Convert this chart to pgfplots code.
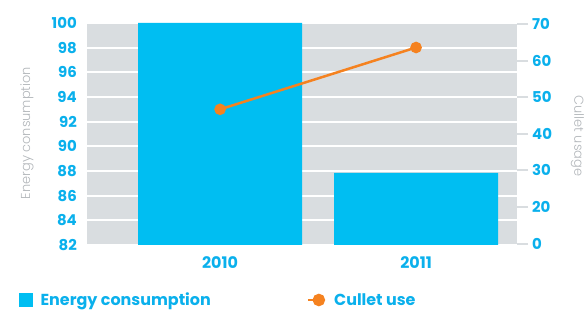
\documentclass[border=0pt]{standalone}
\usepackage{fontspec}
\setmainfont{Poppins}
\newfontfamily\popsb{Poppins Bold}
\newfontfamily\poplight{Poppins Light}
\usepackage{pgfplots}
\pgfplotsset{compat=1.18}
\definecolor{barc}{RGB}{0,190,242}
\definecolor{tickblue}{RGB}{10,176,236}
\definecolor{bggray}{RGB}{217,221,224}
\definecolor{labgray}{RGB}{178,182,186}
\definecolor{linec}{RGB}{245,130,32}
\begin{document}
\begin{tikzpicture}
\path[use as bounding box] (0,0) rectangle (585bp,314bp);
\begin{axis}[at={(87bp,69bp)}, anchor=south west, scale only axis,
  width=430bp, height=222bp,
  xmin=-0.679, xmax=1.515, ymin=82, ymax=100,
  /pgf/number format/assume math mode=true,
  axis background/.style={fill=bggray},
  axis line style={draw=none},
  ytick={82,84,...,100}, xtick={0,1}, xticklabels={2010,2011},
  ymajorgrids, grid style={white, line width=2bp},
  major tick length=0pt, tick style={draw=none},
  yticklabel style={font=\popsb\fontsize{15}{15}\selectfont, text=tickblue, anchor=east, inner sep=0pt, xshift=-10bp},
  xticklabel style={font=\popsb\fontsize{16}{16}\selectfont, text=tickblue, anchor=center, inner sep=0pt, yshift=-18bp},
  ylabel={Energy consumption},
  ylabel style={at={(axis description cs:-0.1395,0.5045)}, anchor=center, font=\poplight\fontsize{13}{13}\selectfont, text=labgray},
]
\addplot[ybar, bar width=164bp, fill=barc, draw=none] coordinates {(0,100) (1,87.85)};
\end{axis}
\begin{axis}[at={(87bp,69bp)}, anchor=south west, scale only axis,
  width=430bp, height=222bp,
  xmin=-0.679, xmax=1.515, ymin=9.6, ymax=70.3,
  /pgf/number format/assume math mode=true,
  axis x line=none, axis y line*=right,
  axis line style={draw=none},
  ytick={10,20,...,70}, yticklabels={0,20,30,40,50,60,70},
  tick align=outside, major tick length=11bp,
  ytick style={draw=bggray, line width=2bp},
  yticklabel style={font=\popsb\fontsize{15}{15}\selectfont, text=tickblue, anchor=west, inner sep=0pt, xshift=4bp},
  ylabel={Cullet usage},
  ylabel style={at={(axis description cs:1.1407,0.491)}, anchor=center, rotate=180, font=\poplight\fontsize{13}{13}\selectfont, text=labgray},
  legend columns=2,
  legend style={at={(axis description cs:-0.1581,-0.2477)}, anchor=west, draw=none, fill=none, inner sep=0pt, column sep=0pt,
    nodes={inner sep=0pt, anchor=west}, font=\popsb\fontsize{16}{16}\selectfont, text=tickblue},
]
\addlegendimage{legend image code/.code={\fill[barc] (0bp,-6.5bp) rectangle (13bp,6.5bp);}}
\addlegendentry{\hspace*{8bp}\makebox[266bp][l]{Energy consumption}}
\addplot[color=linec, line width=2.5bp, mark=*, mark size=4.5bp, mark options={fill=linec, draw=linec},
  legend image code/.code={\draw[linec, line width=2.5bp] (0bp,0bp) -- (10bp,0bp); \fill[linec] (11bp,0bp) circle (5bp);}]
  coordinates {(0,46.7) (1,63.6)};
\addlegendentry{\hspace*{9bp}Cullet use}
\end{axis}
\end{tikzpicture}
\end{document}
